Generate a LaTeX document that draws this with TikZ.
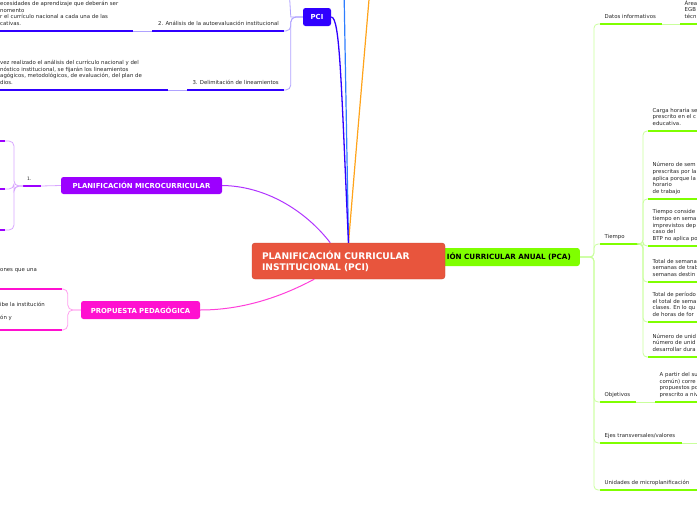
\documentclass[tikz,border=0pt]{standalone}
\usepackage{fontspec}
\setmainfont{DejaVu Sans}
\usepackage{tikz}
\definecolor{CoreRed}{HTML}{E8553D}
\definecolor{PcaGreen}{HTML}{7FFF00}
\definecolor{PcaPale}{HTML}{C9FF9C}
\definecolor{PciBlue}{HTML}{3000FF}
\definecolor{PciPale}{HTML}{AFA2FF}
\definecolor{MicroViolet}{HTML}{9C00FF}
\definecolor{MicroPale}{HTML}{D8A6FF}
\definecolor{PropPink}{HTML}{FF10D0}
\definecolor{PropPale}{HTML}{FFA0EE}
\definecolor{SkyBlue}{HTML}{2E7DFF}
\definecolor{Amber}{HTML}{FFA31A}
\newcommand{\headfont}{\fontsize{6.9}{8}\selectfont\bfseries}
\newcommand{\leaffont}{\fontsize{5.4}{6.7}\selectfont}

\begin{document}
\begin{tikzpicture}[x=1pt, y=-1pt,
  hub/.style={rounded corners=3pt, fill=CoreRed, draw=CoreRed!85!black,
              text=white, align=left, inner xsep=10pt,
              font=\fontsize{9.1}{11}\selectfont\bfseries},
  branch/.style={rounded corners=2.5pt, text=white, inner sep=0pt, font=\headfont},
  topic/.style={anchor=south west, align=left, inner xsep=4.5pt, inner ysep=4pt,
                text depth=1.3pt, text=black!85, font=\leaffont},
  bar/.style={line width=2.3pt},
  twig/.style={line width=0.8pt}
]
\useasboundingbox (0,0) rectangle (697,520);
\clip (0,0) rectangle (697,520);

% annual plan (its left part sits under the core box)
\node[branch, fill=PcaGreen, text=black, anchor=east, inner xsep=9pt,
      text width=172pt, align=right, minimum height=18pt,
      font=\fontsize{7.2}{9}\selectfont\bfseries] (pca) at (580,257)
  {IÓN CURRICULAR ANUAL (PCA)};
\node[hub, minimum height=36pt, text width=173pt] (pci) at (348.5,261)
  {PLANIFICACIÓN CURRICULAR\\INSTITUCIONAL (PCI)};

\node[branch, fill=PciBlue, minimum width=28pt, minimum height=18pt] (pcibox) at (317,17) {PCI};
\node[branch, fill=MicroViolet, minimum width=161pt, minimum height=17pt] (micro) at (141.5,185.5)
  {PLANIFICACIÓN MICROCURRICULAR};
\node[branch, fill=PropPink, minimum width=119pt, minimum height=18pt] (prop) at (140.5,310)
  {PROPUESTA PEDAGÓGICA};

% links from the core
\coordinate (up1) at (344,-12);
\coordinate (up2) at (370,-12);
\draw[line width=1.2pt, SkyBlue] (pci.north) -- (up1);
\draw[line width=1.2pt, Amber] (pci.north) .. controls (357,140) .. (up2);
\draw[line width=1.3pt, PciBlue] (pcibox.east) .. controls (340,17) and (341,80) .. (pci.north);
\draw[line width=1pt, MicroViolet!80] (micro.east) .. controls (265,186) and (305,210) .. (pci.135);
\draw[line width=1pt, PropPink!80] (prop.east) .. controls (250,310) and (290,292) .. (pci.208);

% PCI side
\node[topic, anchor=south east, inner xsep=5pt] (anal) at (284,31)
  {2. Análisis de la autoevaluación institucional};
\draw[bar, PciBlue] (anal.south east) -- ++(-132,0) coordinate (anal-w);
\node[topic, inner xsep=1pt] (anchild) at (-1,31)
  {ecesidades de aprendizaje que deberán ser\\nomento\\r el currículo nacional a cada una de las\\cativas.};
\draw[bar, PciBlue] (anchild.south west) -- ++(134,0) coordinate (anchild-e);
\draw[twig, PciPale] (anchild-e) -- (anal-w);

\node[topic, anchor=south east, inner xsep=5pt] (delim) at (284,90)
  {3. Delimitación de lineamientos};
\draw[bar, PciBlue] (delim.south east) -- ++(-97,0) coordinate (delim-w);
\node[topic, inner xsep=1pt] (delchild) at (-1,90)
  {vez realizado el análisis del currículo nacional y del\\nóstico institucional, se fijarán los lineamientos\\agógicos, metodológicos, de evaluación, del plan de\\dios.};
\draw[bar, PciBlue] (delchild.south west) -- ++(169,0) coordinate (delchild-e);
\draw[twig, PciPale] (delchild-e) -- (delim-w);

\coordinate (pci1) at (289,-12);
\draw[twig, PciPale, rounded corners=5pt] (pcibox.west) -- ++(-12,0) |- (anal.south east);
\draw[twig, PciPale, rounded corners=5pt] (pcibox.west) -- ++(-12,0) |- (delim.south east);
\draw[twig, PciPale] (pcibox.west) -- ++(-12,0) -- (pci1);

% microcurricular side
\node[topic, inner xsep=4pt, font=\fontsize{4.6}{5}\selectfont] (m1) at (23,186) {1.};
\draw[bar, MicroViolet] (m1.south west) -- ++(18,0) coordinate (m1-e);
\draw[twig, MicroPale] (m1-e) -- (micro.west);
\coordinate (mc1) at (5,141);
\coordinate (mc2) at (5,189);
\coordinate (mc3) at (5,230);
\foreach \c in {mc1,mc2,mc3}{
  \draw[twig, MicroPale, rounded corners=5pt] (m1.south west) -- ++(-9,0) |- (\c);
  \draw[bar, MicroViolet] (\c) -- ++(-10,0);
}

% pedagogical proposal side
\node[topic, inner xsep=1pt, text depth=13.5pt] (pc1) at (-1,289) {ones que una};
\draw[bar, PropPink] (pc1.south west) -- ++(63,0) coordinate (pc1-e);
\node[topic, inner xsep=1pt, text depth=6pt] (pc2) at (-1,330) {ibe la institución\\[6.7pt]ón y};
\draw[bar, PropPink] (pc2.south west) -- ++(63,0) coordinate (pc2-e);
\draw[twig, PropPale, rounded corners=5pt] (prop.west) -- ++(-13,0) |- (pc1-e);
\draw[twig, PropPale, rounded corners=5pt] (prop.west) -- ++(-13,0) |- (pc2-e);

% PCA side
\node[topic] (datos) at (600,24) {Datos informativos};
\draw[bar, PcaGreen] (datos.south west) -- ++(62,0) coordinate (datos-e);
\node[topic] (area) at (680,24) {Área\\EGB\\técn};
\draw[bar, PcaGreen] (area.south west) -- ++(40,0);
\draw[twig, PcaPale] (datos-e) -- (area.south west);

\node[topic] (tiempo) at (600,244) {Tiempo};
\draw[bar, PcaGreen] (tiempo.south west) -- ++(40,0) coordinate (tiempo-e);
\node[topic] (t1) at (648,131) {Carga horaria se\\prescrito en el c\\educativa.};
\node[topic] (t2) at (648,199) {Número de sem\\prescritas por la\\aplica porque la\\horario\\de trabajo};
\node[topic] (t3) at (648,246) {Tiempo conside\\tiempo en sema\\imprevistos dep\\caso del\\BTP no aplica po};
\node[topic] (t4) at (648,282) {Total de semana\\semanas de trab\\semanas destin};
\node[topic] (t5) at (648,322) {Total de período\\el total de sema\\clases. En lo qu\\de horas de for};
\node[topic] (t6) at (648,357) {Número de unid\\número de unid\\desarrollar dura};
\foreach \t in {t1,t2,t3,t4,t5,t6}{
  \draw[twig, PcaPale, rounded corners=4pt] (tiempo-e) -- ++(3,0) |- (\t.south west);
  \draw[bar, PcaGreen] (\t.south west) -- ++(60,0);
}

\node[topic] (obj) at (600,402) {Objetivos};
\draw[bar, PcaGreen] (obj.south west) -- ++(36,0) coordinate (obj-e);
\node[topic] (objtxt) at (655,402) {A partir del su\\común) corre\\propuestos po\\prescrito a niv};
\draw[bar, PcaGreen] (objtxt.south west) -- ++(60,0);
\draw[twig, PcaPale] (obj-e) -- (objtxt.south west);

\node[topic] (ejes) at (600,443) {Ejes transversales/valores};
\draw[bar, PcaGreen] (ejes.south west) -- ++(82,0) coordinate (ejes-e);
\coordinate (ejesout) at (710,443);
\draw[twig, PcaPale] (ejes-e) -- (ejesout);

\node[topic] (unid) at (600,490) {Unidades de microplanificación};
\draw[bar, PcaGreen] (unid.south west) -- ++(110,0);

\foreach \t in {datos,tiempo,obj,ejes,unid}
  \draw[twig, PcaPale, rounded corners=4pt] (pca.east) -- ++(14,0) |- (\t.south west);
\end{tikzpicture}
\end{document}
